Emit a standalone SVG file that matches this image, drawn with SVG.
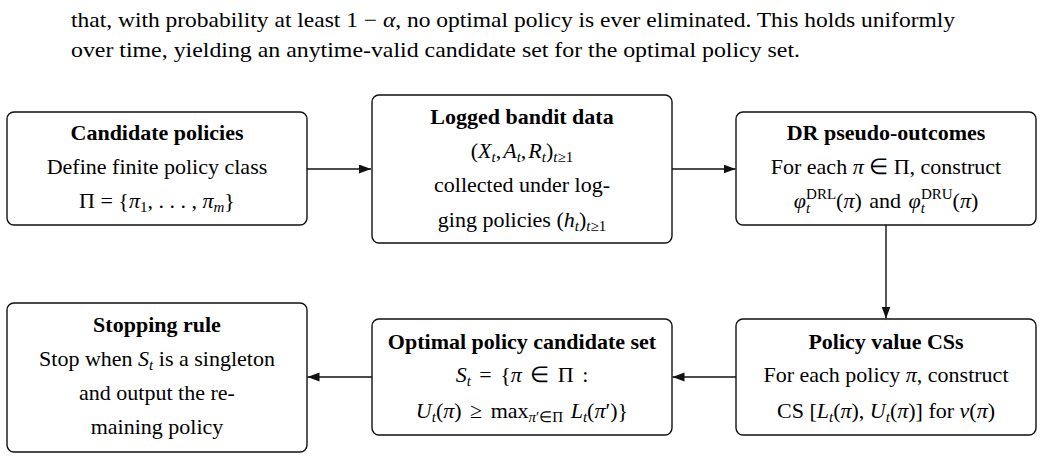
<svg xmlns="http://www.w3.org/2000/svg" width="1043" height="459" viewBox="0 0 1043 459">
<style>
text{font-family:"Liberation Serif","Times New Roman",serif;fill:#000}
.p{font-size:21px}
.t{font-size:22px;font-weight:bold;text-anchor:middle}
.b{font-size:22px;text-anchor:middle}
.i{font-style:italic}
.s{font-size:15px}
.box{fill:#fff;stroke:#111;stroke-width:1.4}
.c{stroke:#111;stroke-width:1.4;fill:none;marker-end:url(#ah)}
</style>
<defs>
<marker id="ah" markerUnits="userSpaceOnUse" markerWidth="13" markerHeight="10" refX="12" refY="4.5" orient="auto">
<path d="M0,0 L12,4.5 L0,9 z" fill="#111"/>
</marker>
</defs>
<g id="paragraph">
<text class="p" x="71" y="26.5" textLength="884" lengthAdjust="spacingAndGlyphs">that, with probability at least 1 − <tspan class="i">α</tspan>, no optimal policy is ever eliminated. This holds uniformly</text>
<text class="p" x="71" y="57" textLength="729" lengthAdjust="spacingAndGlyphs">over time, yielding an anytime-valid candidate set for the optimal policy set.</text>
</g>
<g id="connectors">
<line class="c" x1="307" y1="169" x2="371" y2="169"/>
<line class="c" x1="672" y1="169" x2="735.5" y2="169"/>
<line class="c" x1="886" y1="225" x2="886" y2="318.5"/>
<line class="c" x1="736" y1="377" x2="672.5" y2="377"/>
<line class="c" x1="372" y1="377" x2="307.5" y2="377"/>
</g>
<g id="candidate-policies">
<rect class="box" x="7" y="112" width="300" height="113" rx="7"/>
<text class="t" x="157" y="140">Candidate policies</text>
<text class="b" x="157" y="173.5">Define finite policy class</text>
<text class="b" x="157" y="208">Π = {<tspan class="i">π</tspan><tspan class="s" dy="4">1</tspan><tspan dy="-4">, . . . , </tspan><tspan class="i">π</tspan><tspan class="s i" dy="4">m</tspan><tspan dy="-4">}</tspan></text>
</g>
<g id="logged-bandit-data">
<rect class="box" x="372" y="95" width="300" height="148" rx="7"/>
<text class="t" x="522" y="123.5">Logged bandit data</text>
<text class="b" x="522" y="158">(<tspan class="i">X</tspan><tspan class="s i" dy="4">t</tspan><tspan dy="-4">,</tspan><tspan class="i" dx="2">A</tspan><tspan class="s i" dy="4">t</tspan><tspan dy="-4">,</tspan><tspan class="i" dx="2">R</tspan><tspan class="s i" dy="4">t</tspan><tspan dy="-4">)</tspan><tspan class="s" dy="4"><tspan class="i">t</tspan>≥1</tspan></text>
<text class="b" x="522" y="192">collected under log-</text>
<text class="b" x="522" y="226.5">ging policies (<tspan class="i">h</tspan><tspan class="s i" dy="4">t</tspan><tspan dy="-4">)</tspan><tspan class="s" dy="4"><tspan class="i">t</tspan>≥1</tspan></text>
</g>
<g id="dr-pseudo-outcomes">
<rect class="box" x="736" y="112" width="300" height="113" rx="7"/>
<text class="t" x="886" y="140">DR pseudo-outcomes</text>
<text class="b" x="886" y="173.5">For each <tspan class="i">π</tspan> ∈ Π, construct</text>
<text class="b" x="886" y="208"><tspan class="i">φ</tspan><tspan class="s i" dy="5">t</tspan><tspan class="s" dx="-4" dy="-14">DRL</tspan><tspan dy="9">(</tspan><tspan class="i">π</tspan>) <tspan dx="2">and </tspan><tspan class="i" dx="2">φ</tspan><tspan class="s i" dy="5">t</tspan><tspan class="s" dx="-4" dy="-14">DRU</tspan><tspan dy="9">(</tspan><tspan class="i">π</tspan>)</text>
</g>
<g id="policy-value-css">
<rect class="box" x="736" y="319" width="300" height="116" rx="7"/>
<text class="t" x="886" y="348.5">Policy value CSs</text>
<text class="b" x="886" y="382">For each policy <tspan class="i">π</tspan>, construct</text>
<text class="b" x="886" y="417.5">CS [<tspan class="i">L</tspan><tspan class="s i" dy="4">t</tspan><tspan dy="-4">(</tspan><tspan class="i">π</tspan>), <tspan class="i">U</tspan><tspan class="s i" dy="4">t</tspan><tspan dy="-4">(</tspan><tspan class="i">π</tspan>)] for <tspan class="i">ν</tspan>(<tspan class="i">π</tspan>)</text>
</g>
<g id="optimal-policy-candidate-set">
<rect class="box" x="372" y="319" width="300" height="116" rx="7"/>
<text class="t" x="522" y="348.5">Optimal policy candidate set</text>
<text class="b" x="522" y="382"><tspan class="i">S</tspan><tspan class="s i" dy="4">t</tspan><tspan dy="-4" dx="3"> = </tspan><tspan dx="3">{</tspan><tspan class="i">π</tspan><tspan dx="3"> ∈ </tspan><tspan dx="3">Π </tspan><tspan dx="3">:</tspan></text>
<text class="b" x="522" y="417.5"><tspan class="i">U</tspan><tspan class="s i" dy="4">t</tspan><tspan dy="-4">(</tspan><tspan class="i">π</tspan>)<tspan dx="3"> ≥ </tspan><tspan dx="3">max</tspan><tspan class="s" dy="4"><tspan class="i">π</tspan>′∈Π</tspan><tspan dy="-4" dx="2"> </tspan><tspan class="i">L</tspan><tspan class="s i" dy="4">t</tspan><tspan dy="-4">(</tspan><tspan class="i">π</tspan>′)}</text>
</g>
<g id="stopping-rule">
<rect class="box" x="7" y="303" width="300" height="149" rx="7"/>
<text class="t" x="157" y="331.5">Stopping rule</text>
<text class="b" x="157" y="366">Stop when <tspan class="i">S</tspan><tspan class="s i" dy="4">t</tspan><tspan dy="-4"> is a singleton</tspan></text>
<text class="b" x="157" y="400">and output the re-</text>
<text class="b" x="157" y="434">maining policy</text>
</g>
</svg>
